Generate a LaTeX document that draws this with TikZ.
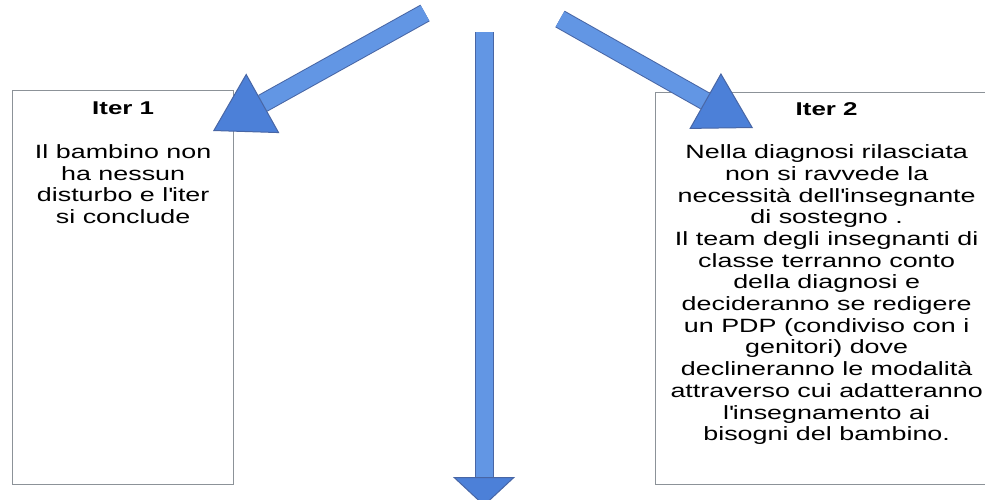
\documentclass[tikz,border=0pt]{standalone}
\usepackage{fontspec}
\setmainfont{Liberation Sans}[FakeStretch=1.4]
\usetikzlibrary{arrows.meta,positioning}

\definecolor{shaftblue}{RGB}{98,150,228}
\definecolor{headblue}{RGB}{76,128,216}
\definecolor{arrowedge}{RGB}{72,102,165}
\definecolor{boxgray}{RGB}{140,146,152}

\tikzset{
  iterbox/.style={draw=boxgray, line width=1.3pt, fill=white, rectangle, inner sep=0pt},
  itertitle/.style={anchor=north, inner sep=0pt, font=\fontsize{18.5pt}{22pt}\selectfont\bfseries},
  itertext/.style={inner sep=0pt, align=center, font=\fontsize{19.2pt}{21.7pt}\selectfont},
  blockarrow/.style 2 args={draw=shaftblue, line width=17pt,
    -{Triangle[width=#2, length=#1, line width=1pt, color=arrowedge, fill=headblue]},
    preaction={draw=arrowedge, line width=19pt, -, shorten >=#1}}
}

\begin{document}
\begin{tikzpicture}[x=1pt, y=-1pt]
\useasboundingbox (0,0) rectangle (985,499);
\clip (0,0) rectangle (985,499);

% The two boxes with the outcome of each path
\node[iterbox, anchor=north west, minimum width=221pt, minimum height=394pt] (iteronebox) at (12,90) {};
\node[iterbox, anchor=north west, minimum width=342pt, minimum height=392pt] (itertwobox) at (655,92) {};

% Titles and texts, set from the top of each box
\node[itertitle] (iteronetitle) at ([yshift=-12pt]iteronebox.north) {Iter 1};
\node[itertext, anchor=north, below=29pt of iteronetitle] (iteronetext)
  {Il bambino non\\ha nessun\\disturbo e l\textquotesingle iter\\si conclude};

\node[itertitle] (itertwotitle) at ([yshift=-10pt]itertwobox.north) {Iter 2};
\node[itertext, anchor=north, below=29pt of itertwotitle] (itertwotext)
  {Nella diagnosi rilasciata\\
   non si ravvede la\\
   necessità dell\textquotesingle insegnante\\
   di sostegno .\\
   Il team degli insegnanti di\\
   classe terranno conto\\
   della diagnosi  e\\
   decideranno se redigere\\
   un PDP (condiviso con i\\
   genitori) dove\\
   declineranno le modalità\\
   attraverso cui adatteranno\\
   l\textquotesingle insegnamento ai\\
   bisogni del bambino.};

% Block arrows: tails at the top, tips into the boxes and down
\coordinate (lefttail) at (425,13);
\coordinate (lefttip) at (213,131);
\coordinate (midtail) at (484,32);
\coordinate (midtip) at (484,506);
\coordinate (righttail) at (560,19);
\coordinate (righttip) at (753,128);

\foreach \from/\to/\len/\wid in {lefttail/lefttip/57pt/68pt, midtail/midtip/29pt/62pt, righttail/righttip/55pt/64pt}
  \draw[blockarrow={\len}{\wid}] (\from) -- (\to);
\end{tikzpicture}
\end{document}
